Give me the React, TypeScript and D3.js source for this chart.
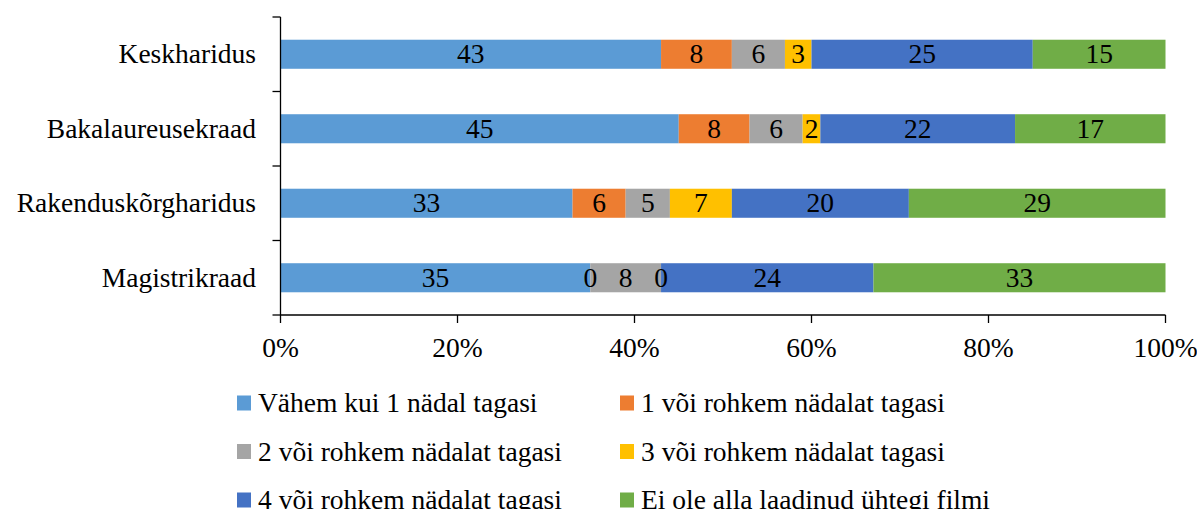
import React, { useEffect, useRef } from 'react';
import * as d3 from 'd3';

const categories = ['Keskharidus', 'Bakalaureusekraad', 'Rakenduskõrgharidus', 'Magistrikraad'];
const seriesNames = [
  'Vähem kui 1 nädal tagasi',
  '1 või rohkem nädalat tagasi',
  '2 või rohkem nädalat tagasi',
  '3 või rohkem nädalat tagasi',
  '4 või rohkem nädalat tagasi',
  'Ei ole alla laadinud ühtegi filmi',
];
const seriesColors = ['#5B9BD5', '#ED7D31', '#A5A5A5', '#FFC000', '#4472C4', '#70AD47'];
// one array per category, in series order
const keskharidus = [43, 8, 6, 3, 25, 15];
const bakalaureusekraad = [45, 8, 6, 2, 22, 17];
const rakenduskorgharidus = [33, 6, 5, 7, 20, 29];
const magistrikraad = [35, 0, 8, 0, 24, 33];
const xTicks = [0, 20, 40, 60, 80, 100];

const App = () => {
  const ref = useRef<SVGSVGElement>(null);

  useEffect(() => {
    const width = 1197, height = 509;
    const margin = { top: 17, right: 31.5, bottom: 194, left: 280.5 };
    const font = '"Liberation Serif", "Times New Roman", serif';
    const fs = 27.5;

    const svg = d3.select(ref.current);
    svg.selectAll('*').remove();
    svg.attr('width', width).attr('height', height).attr('font-family', font).attr('font-size', fs);

    const rows = [keskharidus, bakalaureusekraad, rakenduskorgharidus, magistrikraad];
    const table = categories.map((c, i) => {
      const o: any = { cat: c };
      seriesNames.forEach((s, j) => (o[s] = rows[i][j]));
      return o;
    });
    const stacked = d3.stack<any>().keys(seriesNames)(table);

    const x = d3.scaleLinear().domain([0, 100]).range([margin.left, width - margin.right]);
    const y = d3.scaleBand().domain(categories).range([margin.top, height - margin.bottom]).paddingInner(0.61).paddingOuter(0.305);
    const y0 = margin.top, y1 = height - margin.bottom;

    // bars
    const g = svg.append('g');
    stacked.forEach((layer, j) => {
      g.append('g')
        .attr('fill', seriesColors[j])
        .selectAll('rect')
        .data(layer)
        .enter().append('rect')
        .attr('x', d => x(d[0]))
        .attr('y', d => y(d.data.cat)!)
        .attr('width', d => x(d[1]) - x(d[0]))
        .attr('height', y.bandwidth());
    });
    // value labels on top of all bars
    stacked.forEach(layer => {
      g.append('g')
        .attr('text-anchor', 'middle')
        .attr('fill', '#000')
        .selectAll('text')
        .data(layer)
        .enter().append('text')
        .attr('x', d => (x(d[0]) + x(d[1])) / 2)
        .attr('y', d => y(d.data.cat)! + y.bandwidth() / 2)
        .attr('dy', '0.33em')
        .text(d => d[1] - d[0]);
    });

    // y axis
    const ax = svg.append('g').attr('stroke', '#000').attr('stroke-width', 1.3).attr('fill', 'none');
    ax.append('line').attr('x1', x(0)).attr('x2', x(0)).attr('y1', y0).attr('y2', y1);
    const step = (y1 - y0) / categories.length;
    d3.range(categories.length + 1).forEach(i => {
      ax.append('line').attr('x1', x(0) - 8).attr('x2', x(0)).attr('y1', y0 + i * step).attr('y2', y0 + i * step);
    });
    // x axis
    ax.append('line').attr('x1', x(0)).attr('x2', x(100)).attr('y1', y1).attr('y2', y1);
    xTicks.forEach(t => {
      ax.append('line').attr('x1', x(t)).attr('x2', x(t)).attr('y1', y1).attr('y2', y1 + 8);
    });

    svg.append('g').attr('text-anchor', 'middle')
      .selectAll('text').data(xTicks).enter().append('text')
      .attr('x', d => x(d)).attr('y', 357)
      .text(d => d + '%');

    svg.append('g').attr('text-anchor', 'end')
      .selectAll('text').data(categories).enter().append('text')
      .attr('x', 256).attr('y', d => y(d)! + y.bandwidth() / 2).attr('dy', '0.33em')
      .text(d => d);

    // legend
    const leg = svg.append('g');
    seriesNames.forEach((s, j) => {
      const col = j % 2, row = Math.floor(j / 2);
      const lx = col === 0 ? 237 : 620;
      const ly = 403 + row * 48.5;
      leg.append('rect').attr('x', lx).attr('y', ly - 7.5).attr('width', 14).attr('height', 15).attr('fill', seriesColors[j]);
      leg.append('text').attr('x', lx + 21).attr('y', ly).attr('dy', '0.33em').text(s);
    });
  }, []);

  return <svg ref={ref} style={{ position: 'absolute', left: 0, top: 0 }} />;
};

export default App;
